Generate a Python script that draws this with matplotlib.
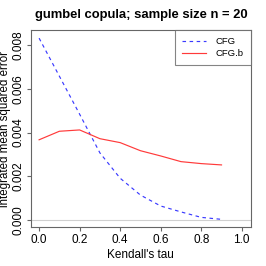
import numpy as np
import matplotlib.pyplot as plt

plt.rcParams['font.family'] = ['Liberation Sans', 'DejaVu Sans']

tau = [0.0, 0.1, 0.2, 0.3, 0.4, 0.5, 0.6, 0.7, 0.8, 0.9]
cfg = [0.00832, 0.00658, 0.00484, 0.00307, 0.00191, 0.00114, 0.00064, 0.00037, 0.00012, 0.00003]
cfg_b = [0.00367, 0.00406, 0.00412, 0.00372, 0.00354, 0.00317, 0.00293, 0.00267, 0.00258, 0.00252]

xticks = [0.0, 0.2, 0.4, 0.6, 0.8, 1.0]
yticks = [0.000, 0.002, 0.004, 0.006, 0.008]

fig = plt.figure(figsize=(2.66, 2.66), dpi=100)
ax = fig.add_axes([0.1165, 0.1455, 0.826, 0.7415])

ax.axhline(0, color='#d0d0d0', lw=0.8, zorder=0)
ax.plot(tau, cfg, color='#3a3aff', lw=0.85, ls=(0, (3, 3)), label='CFG')
ax.plot(tau, cfg_b, color='#ff3a3a', lw=0.85, label='CFG.b')

ax.set_xlim(-0.04, 1.044)
ax.set_ylim(-0.000334, 0.00869)
ax.set_xticks(xticks)
ax.set_xticklabels(['%.1f' % v for v in xticks])
ax.set_yticks(yticks)
ax.set_yticklabels(['%.3f' % v for v in yticks], rotation=90, va='center')

for s in ax.spines.values():
    s.set_color('#666666')
    s.set_linewidth(0.8)
ax.tick_params(direction='out', length=3, width=0.8, color='#666666',
               labelsize=8.5, pad=2)

ax.set_xlabel("Kendall's tau", fontsize=8.5, labelpad=2)
ax.set_ylabel('integrated mean squared error', fontsize=8.3, labelpad=1)
ax.set_title('gumbel copula; sample size n = 20', fontsize=9.4, fontweight='bold', pad=9)

leg = ax.legend(loc='upper right', bbox_to_anchor=(1, 1), borderaxespad=0,
                fontsize=6.8, fancybox=False, handlelength=2.6, handletextpad=1.0,
                borderpad=0.75, labelspacing=0.3)
leg.get_frame().set_edgecolor('#666666')
leg.get_frame().set_linewidth(0.8)

plt.savefig('out.png', dpi=100)
